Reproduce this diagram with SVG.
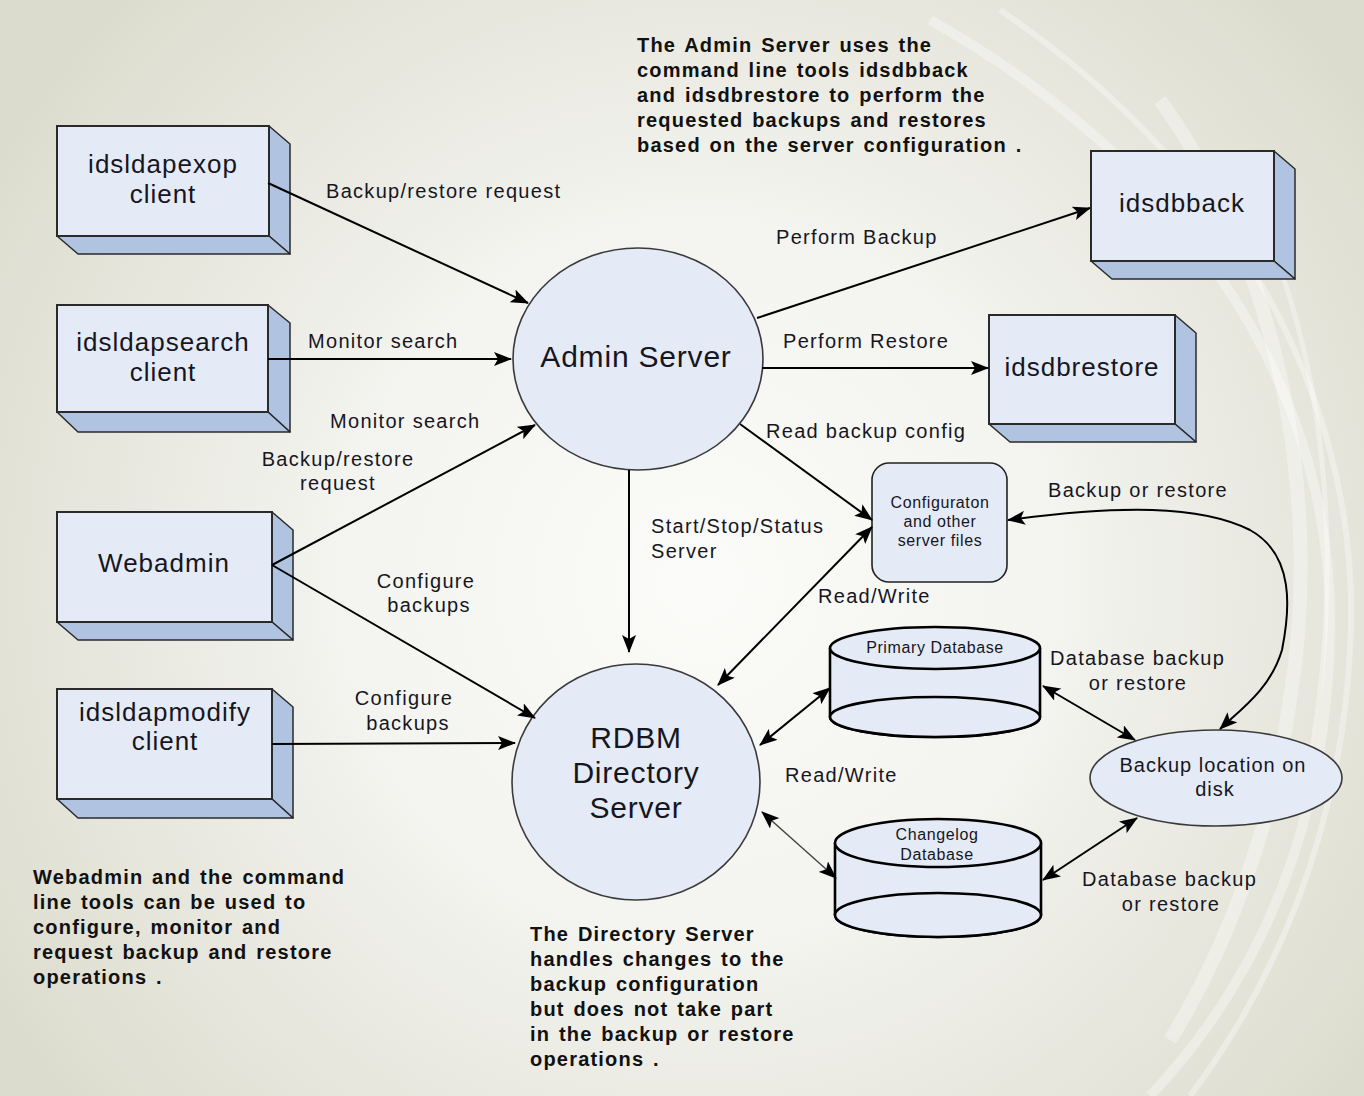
<svg xmlns="http://www.w3.org/2000/svg" width="1364" height="1096" viewBox="0 0 1364 1096">
<defs>
<radialGradient id="bg" cx="700" cy="580" r="820" gradientUnits="userSpaceOnUse">
<stop offset="0" stop-color="#fbfbf9"/>
<stop offset="0.45" stop-color="#f3f3ef"/>
<stop offset="1" stop-color="#dcdcce"/>
</radialGradient>
<marker id="ar" markerUnits="userSpaceOnUse" viewBox="0 0 18 14" refX="17" refY="7" markerWidth="18" markerHeight="14" orient="auto-start-reverse">
<path d="M0,0 L18,7 L0,14 L4,7 Z" fill="#000"/>
</marker>
</defs>
<style>
.bg{fill:url(#bg)}
.swirl{fill:none;stroke:#ffffff;stroke-opacity:0.35}
.front{fill:#e5ebf6;stroke:#2a2a2a;stroke-width:2}
.side{fill:#b0c4e2;stroke:#2a2a2a;stroke-width:1.5;stroke-linejoin:round}
.circ{fill:#e5ebf6;stroke:#3a3a3a;stroke-width:1.6}
.cyl{fill:#e5ebf6;stroke:#000;stroke-width:2.6}
.rbox{fill:#e5ebf6;stroke:#222;stroke-width:1.6}
.n{font-family:"Liberation Sans",Arial,sans-serif;fill:#16161f;text-anchor:middle}
.nl{font-size:26px;letter-spacing:1px}
.big{font-size:30px;letter-spacing:0.8px}
.sm{font-size:16px;letter-spacing:0.6px}
.lb{font-family:"Liberation Sans",Arial,sans-serif;fill:#16161f;font-size:20px;letter-spacing:1.3px}
.note{font-family:"Liberation Sans",Arial,sans-serif;fill:#111;font-size:20px;font-weight:bold;letter-spacing:1.2px;word-spacing:2px}
.c{text-anchor:middle}
.ln{fill:none;stroke:#000;stroke-width:2}
.thin{fill:none;stroke:#444;stroke-width:1.4}
</style>
<rect class="bg" x="0" y="0" width="1364" height="1096"/>
<g id="background-swirls">
<path class="swirl" d="M930,20 C1180,160 1330,380 1330,620 C1330,820 1260,980 1150,1096" stroke-width="10"/>
<path class="swirl" d="M1000,10 C1250,180 1364,420 1350,650 C1340,840 1270,990 1190,1096" stroke-width="6"/>
<path class="swirl" d="M1160,100 C1290,280 1320,520 1290,700 C1270,840 1220,960 1170,1040" stroke-width="14" stroke-opacity="0.25"/>
<path class="swirl" d="M1230,160 C1330,330 1345,560 1310,760" stroke-width="5"/>
</g>
<g id="idsldapexop">
<polygon class="side" points="269,126 290,144 290,254 269,236"/>
<polygon class="side" points="57,236 269,236 290,254 78,254"/>
<rect class="front" x="57" y="126" width="212" height="110"/>
<text class="n nl" x="163" y="173">idsldapexop</text>
<text class="n nl" x="163" y="203">client</text>
</g>
<g id="idsldapsearch">
<polygon class="side" points="268,305 290,323 290,432 268,412"/>
<polygon class="side" points="57,412 268,412 290,432 78,432"/>
<rect class="front" x="57" y="305" width="211" height="107"/>
<text class="n nl" x="163" y="351">idsldapsearch</text>
<text class="n nl" x="163" y="381">client</text>
</g>
<g id="webadmin">
<polygon class="side" points="272,512 293,530 293,640 272,622"/>
<polygon class="side" points="57,622 272,622 293,640 78,640"/>
<rect class="front" x="57" y="512" width="215" height="110"/>
<text class="n nl" x="164" y="572">Webadmin</text>
</g>
<g id="idsldapmodify">
<polygon class="side" points="272,689 293,707 293,818 272,799"/>
<polygon class="side" points="57,799 272,799 293,818 78,818"/>
<rect class="front" x="57" y="689" width="215" height="110"/>
<text class="n nl" x="165" y="721">idsldapmodify</text>
<text class="n nl" x="165" y="750">client</text>
</g>
<g id="idsdbback">
<polygon class="side" points="1274,151 1295,169 1295,279 1274,261"/>
<polygon class="side" points="1091,261 1274,261 1295,279 1112,279"/>
<rect class="front" x="1091" y="151" width="183" height="110"/>
<text class="n nl" x="1182" y="212">idsdbback</text>
</g>
<g id="idsdbrestore">
<polygon class="side" points="1175,315 1196,333 1196,442 1175,424"/>
<polygon class="side" points="989,424 1175,424 1196,442 1010,442"/>
<rect class="front" x="989" y="315" width="186" height="109"/>
<text class="n nl" x="1082" y="376">idsdbrestore</text>
</g>
<g id="admin-server">
<ellipse class="circ" cx="638" cy="359" rx="125" ry="111"/>
<text class="n big" x="636" y="367">Admin Server</text>
</g>
<g id="rdbm-directory-server">
<ellipse class="circ" cx="636" cy="782" rx="124" ry="118"/>
<text class="n big" x="636" y="748">RDBM</text>
<text class="n big" x="636" y="783">Directory</text>
<text class="n big" x="636" y="818">Server</text>
</g>
<g id="config-files">
<rect class="rbox" x="872" y="463" width="135" height="119" rx="17"/>
<text class="n sm" x="940" y="508">Configuraton</text>
<text class="n sm" x="940" y="527">and other</text>
<text class="n sm" x="940" y="546">server files</text>
</g>
<g id="primary-database">
<path class="cyl" d="M830,648 L830,717 A105,20 0 0 0 1040,717 L1040,648"/>
<ellipse class="cyl" cx="935" cy="717" rx="105" ry="20"/>
<ellipse class="cyl" cx="935" cy="648" rx="105" ry="21"/>
<text class="n sm" x="935" y="653">Primary Database</text>
</g>
<g id="changelog-database">
<path class="cyl" d="M835,843 L835,915 A103,22 0 0 0 1041,915 L1041,843"/>
<ellipse class="cyl" cx="938" cy="915" rx="103" ry="22"/>
<ellipse class="cyl" cx="938" cy="843" rx="103" ry="24"/>
<text class="n sm" x="937" y="840">Changelog</text>
<text class="n sm" x="937" y="860">Database</text>
</g>
<g id="backup-location">
<ellipse class="circ" cx="1216" cy="778" rx="126" ry="48"/>
<text class="n" font-size="20" letter-spacing="1" x="1213" y="772">Backup location on</text>
<text class="n" font-size="20" letter-spacing="1" x="1215" y="796">disk</text>
</g>
<g id="connectors">
<line class="ln" x1="268" y1="183" x2="528" y2="303" marker-end="url(#ar)"/>
<line class="ln" x1="268" y1="359" x2="511" y2="359" marker-end="url(#ar)"/>
<line class="ln" x1="272" y1="565" x2="535" y2="425" marker-end="url(#ar)"/>
<line class="ln" x1="272" y1="565" x2="535" y2="718" marker-end="url(#ar)"/>
<line class="ln" x1="272" y1="744" x2="515" y2="743" marker-end="url(#ar)"/>
<line class="ln" x1="757" y1="318" x2="1090" y2="208" marker-end="url(#ar)"/>
<line class="ln" x1="762" y1="368" x2="988" y2="368" marker-end="url(#ar)"/>
<line class="ln" x1="740" y1="424" x2="872" y2="520" marker-end="url(#ar)"/>
<line class="ln" x1="629" y1="470" x2="629" y2="652" marker-end="url(#ar)"/>
<line class="ln" x1="872" y1="527" x2="718" y2="685" marker-start="url(#ar)" marker-end="url(#ar)"/>
<line class="ln" x1="760" y1="745" x2="830" y2="688" marker-start="url(#ar)" marker-end="url(#ar)"/>
<line class="thin" x1="762" y1="812" x2="836" y2="878" marker-start="url(#ar)" marker-end="url(#ar)"/>
<line class="ln" x1="1043" y1="686" x2="1135" y2="740" marker-start="url(#ar)" marker-end="url(#ar)"/>
<line class="ln" x1="1043" y1="880" x2="1137" y2="818" marker-start="url(#ar)" marker-end="url(#ar)"/>
<path class="ln" d="M1008,520 C1120,505 1200,505 1250,530 C1295,555 1290,610 1282,650 C1270,690 1240,710 1220,729" marker-start="url(#ar)" marker-end="url(#ar)"/>
</g>
<g id="labels">
<text class="lb" x="326" y="198">Backup/restore request</text>
<text class="lb" x="776" y="244">Perform Backup</text>
<text class="lb" x="308" y="348">Monitor search</text>
<text class="lb" x="783" y="348">Perform Restore</text>
<text class="lb" x="330" y="428">Monitor search</text>
<text class="lb" x="766" y="438">Read backup config</text>
<text class="lb c" x="338" y="466">Backup/restore</text>
<text class="lb c" x="338" y="490">request</text>
<text class="lb" x="1048" y="497">Backup or restore</text>
<text class="lb" x="651" y="533">Start/Stop/Status</text>
<text class="lb" x="651" y="558">Server</text>
<text class="lb c" x="426" y="588">Configure</text>
<text class="lb c" x="429" y="612">backups</text>
<text class="lb" x="818" y="603">Read/Write</text>
<text class="lb" x="1050" y="665">Database backup</text>
<text class="lb c" x="1138" y="690">or restore</text>
<text class="lb c" x="404" y="705">Configure</text>
<text class="lb c" x="408" y="730">backups</text>
<text class="lb" x="785" y="782">Read/Write</text>
<text class="lb" x="1082" y="886">Database backup</text>
<text class="lb c" x="1171" y="911">or restore</text>
</g>
<g id="notes">
<text class="note" x="637" y="52">The Admin Server uses the</text>
<text class="note" x="637" y="77">command line tools idsdbback</text>
<text class="note" x="637" y="102">and idsdbrestore to perform the</text>
<text class="note" x="637" y="127">requested backups and restores</text>
<text class="note" x="637" y="152">based on the server configuration  .</text>
<text class="note" x="33" y="884">Webadmin and the command</text>
<text class="note" x="33" y="909">line tools can be used to</text>
<text class="note" x="33" y="934">configure, monitor and</text>
<text class="note" x="33" y="959">request backup and restore</text>
<text class="note" x="33" y="984">operations .</text>
<text class="note" x="530" y="941">The Directory Server</text>
<text class="note" x="530" y="966">handles changes to the</text>
<text class="note" x="530" y="991">backup configuration</text>
<text class="note" x="530" y="1016">but does not take part</text>
<text class="note" x="530" y="1041">in the backup or restore</text>
<text class="note" x="530" y="1066">operations .</text>
</g>
</svg>
